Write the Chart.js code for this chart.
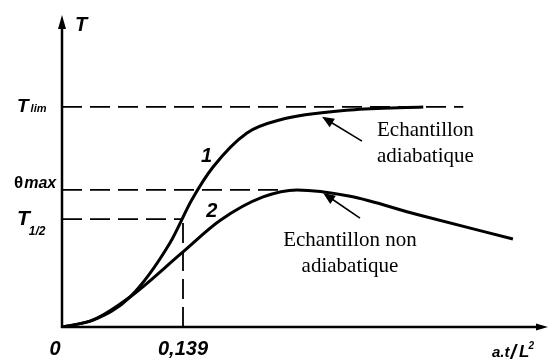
<!DOCTYPE html>
<html><head><meta charset="utf-8">
<script src="https://cdn.jsdelivr.net/npm/chart.js@4"></script>
<style>html,body{margin:0;padding:0;background:#fff;overflow:hidden}</style>
</head><body>
<canvas id="c" width="554" height="361" style="display:block"></canvas>
<script>
// Curve 1 : échantillon adiabatique
const curve1X = [0, 0.036, 0.078, 0.124, 0.149, 0.1735, 0.2125, 0.250, 0.331, 0.415];
const curve1Y = [0, 0.032, 0.136, 0.382, 0.577, 0.727, 0.882, 0.941, 0.986, 1.000];
// Curve 2 : échantillon non adiabatique
const curve2X = [0, 0.036, 0.078, 0.138, 0.1815, 0.231, 0.270, 0.331, 0.408, 0.518];
const curve2Y = [0, 0.032, 0.136, 0.338, 0.484, 0.591, 0.623, 0.594, 0.511, 0.400];
// Reference levels
const tLim = 1.0;
const thetaMax = 0.623;
const tHalf = 0.49;
const tHalfTime = 0.139;
// Tick labels
const xTickValues = [0, 0.139];
const xTickLabels = ['0', '0,139'];
const yTickValues = [tLim, thetaMax, tHalf];
const yTickLabels = [['T', 'lim'], ['\u03B8', 'max'], ['T', '1/2']];
const curveNames = ['1', '2'];
const annotationTexts = [['Echantillon', 'adiabatique'], ['Echantillon non', 'adiabatique']];

const xMax = 0.5583, yMax = 1.418;

function pts(xs, ys) { return xs.map((v, i) => ({x: v, y: ys[i]})); }
function dashed(data) {
  return {data, showLine: true, borderColor: '#000', borderWidth: 1.8, borderDash: [20, 8],
    pointRadius: 0, tension: 0, fill: false};
}

const overlay = {
  id: 'overlay',
  afterDatasetsDraw(chart) {
    const {ctx} = chart;
    const sx = chart.scales.x, sy = chart.scales.y;
    const X = v => sx.getPixelForValue(v), Y = v => sy.getPixelForValue(v);
    ctx.save();
    ctx.fillStyle = '#000'; ctx.strokeStyle = '#000';
    // axes
    ctx.lineWidth = 2.5; ctx.lineCap = 'butt';
    ctx.beginPath();
    ctx.moveTo(X(0), Y(0) + 1); ctx.lineTo(X(0), Y(yMax) + 10);
    ctx.moveTo(X(0) - 1, Y(0)); ctx.lineTo(X(xMax) - 8, Y(0));
    ctx.stroke();
    // arrowheads
    ctx.beginPath();
    ctx.moveTo(X(0), Y(yMax)); ctx.lineTo(X(0) - 4, Y(yMax) + 14); ctx.lineTo(X(0) + 4, Y(yMax) + 14); ctx.closePath();
    ctx.fill();
    ctx.beginPath();
    ctx.moveTo(X(xMax), Y(0)); ctx.lineTo(X(xMax) - 12, Y(0) - 3.5); ctx.lineTo(X(xMax) - 12, Y(0) + 3.5); ctx.closePath();
    ctx.fill();

    const bi = s => 'italic bold ' + s + 'px "Liberation Sans", Arial, sans-serif';
    ctx.textBaseline = 'alphabetic';
    // axis titles
    ctx.font = bi(20); ctx.textAlign = 'left';
    ctx.fillText('T', X(0) + 13, Y(yMax) + 16);
    // a.t/L²
    let ax = X(xMax) - 56, ay = Y(0) + 30;
    ctx.font = bi(15); ctx.fillText('a.t', ax, ay); ax += ctx.measureText('a.t').width + 1;
    ctx.font = bi(20); ctx.fillText('/', ax, ay + 2); ax += ctx.measureText('/').width + 3;
    ctx.font = bi(17); ctx.fillText('L', ax, ay); ax += ctx.measureText('L').width - 1;
    ctx.font = bi(10); ctx.fillText('2', ax, ay - 8);
    // x tick labels
    ctx.font = bi(20); ctx.textAlign = 'center';
    xTickValues.forEach((v, i) => {
      ctx.fillText(xTickLabels[i], X(v) + (v === 0 ? -7 : 0), Y(0) + 28);
    });
    // y tick labels
    ctx.textAlign = 'left';
    yTickValues.forEach((v, i) => {
      const [main, sub] = yTickLabels[i];
      const yy = Y(v);
      if (main === '\u03B8') {
        ctx.font = 'bold 17px "Liberation Sans", Arial, sans-serif';
        ctx.fillText(main, 14, yy - 2);
        const w = ctx.measureText(main).width;
        ctx.font = bi(16);
        ctx.fillText(sub, 14 + w + 1, yy - 2);
      } else if (sub === 'lim') {
        ctx.font = bi(19); ctx.fillText(main, 17, yy + 5);
        const w = ctx.measureText(main).width;
        ctx.font = bi(11); ctx.fillText(sub, 17 + w + 2, yy + 5);
      } else {
        ctx.font = bi(21); ctx.fillText(main, 17, yy + 6);
        const w = ctx.measureText(main).width;
        ctx.font = bi(12); ctx.fillText(sub, 17 + w - 1, yy + 16);
      }
    });
    // curve numbers
    ctx.font = bi(20); ctx.textAlign = 'center';
    ctx.fillText(curveNames[0], X(0.166), Y(0.75));
    ctx.fillText(curveNames[1], X(0.172), Y(0.50));
    // annotation arrows
    const arrows = [[0.3446, 0.845, 0.2987, 0.955], [0.3423, 0.495, 0.300, 0.609]];
    ctx.lineWidth = 1.6;
    arrows.forEach(([x0, y0, x1, y1]) => {
      const px0 = X(x0), py0 = Y(y0), px1 = X(x1), py1 = Y(y1);
      const a = Math.atan2(py1 - py0, px1 - px0);
      ctx.beginPath(); ctx.moveTo(px0, py0); ctx.lineTo(px1 - 8 * Math.cos(a), py1 - 8 * Math.sin(a)); ctx.stroke();
      ctx.beginPath();
      ctx.moveTo(px1, py1);
      ctx.lineTo(px1 - 12 * Math.cos(a) + 5 * Math.sin(a), py1 - 12 * Math.sin(a) - 5 * Math.cos(a));
      ctx.lineTo(px1 - 12 * Math.cos(a) - 5 * Math.sin(a), py1 - 12 * Math.sin(a) + 5 * Math.cos(a));
      ctx.closePath(); ctx.fill();
    });
    // annotation texts
    ctx.font = '21px "Liberation Serif", "Times New Roman", serif';
    ctx.textAlign = 'left';
    ctx.fillText(annotationTexts[0][0], 377, 136);
    ctx.fillText(annotationTexts[0][1], 377, 162);
    ctx.textAlign = 'center';
    ctx.fillText(annotationTexts[1][0], 350, 246);
    ctx.fillText(annotationTexts[1][1], 350, 272);
    ctx.restore();
  }
};

new Chart(document.getElementById('c'), {
  type: 'scatter',
  data: {datasets: [
    dashed([{x: 0, y: tLim}, {x: 0.461, y: tLim}]),
    dashed([{x: 0, y: thetaMax}, {x: 0.255, y: thetaMax}]),
    dashed([{x: 0, y: tHalf}, {x: tHalfTime, y: tHalf}]),
    dashed([{x: tHalfTime, y: 0}, {x: tHalfTime, y: tHalf}]),
    {data: pts(curve1X, curve1Y), showLine: true, borderColor: '#000', borderWidth: 3, pointRadius: 0,
      cubicInterpolationMode: 'monotone', fill: false},
    {data: pts(curve2X, curve2Y), showLine: true, borderColor: '#000', borderWidth: 3, pointRadius: 0,
      cubicInterpolationMode: 'monotone', fill: false}
  ]},
  options: {
    responsive: false, animation: false, devicePixelRatio: 1,
    layout: {padding: {left: 62, right: 6, top: 15, bottom: 34}},
    plugins: {legend: {display: false}, tooltip: {enabled: false}},
    scales: {
      x: {type: 'linear', min: 0, max: xMax, display: false},
      y: {type: 'linear', min: 0, max: yMax, display: false}
    }
  },
  plugins: [overlay]
});
</script>
</body></html>
